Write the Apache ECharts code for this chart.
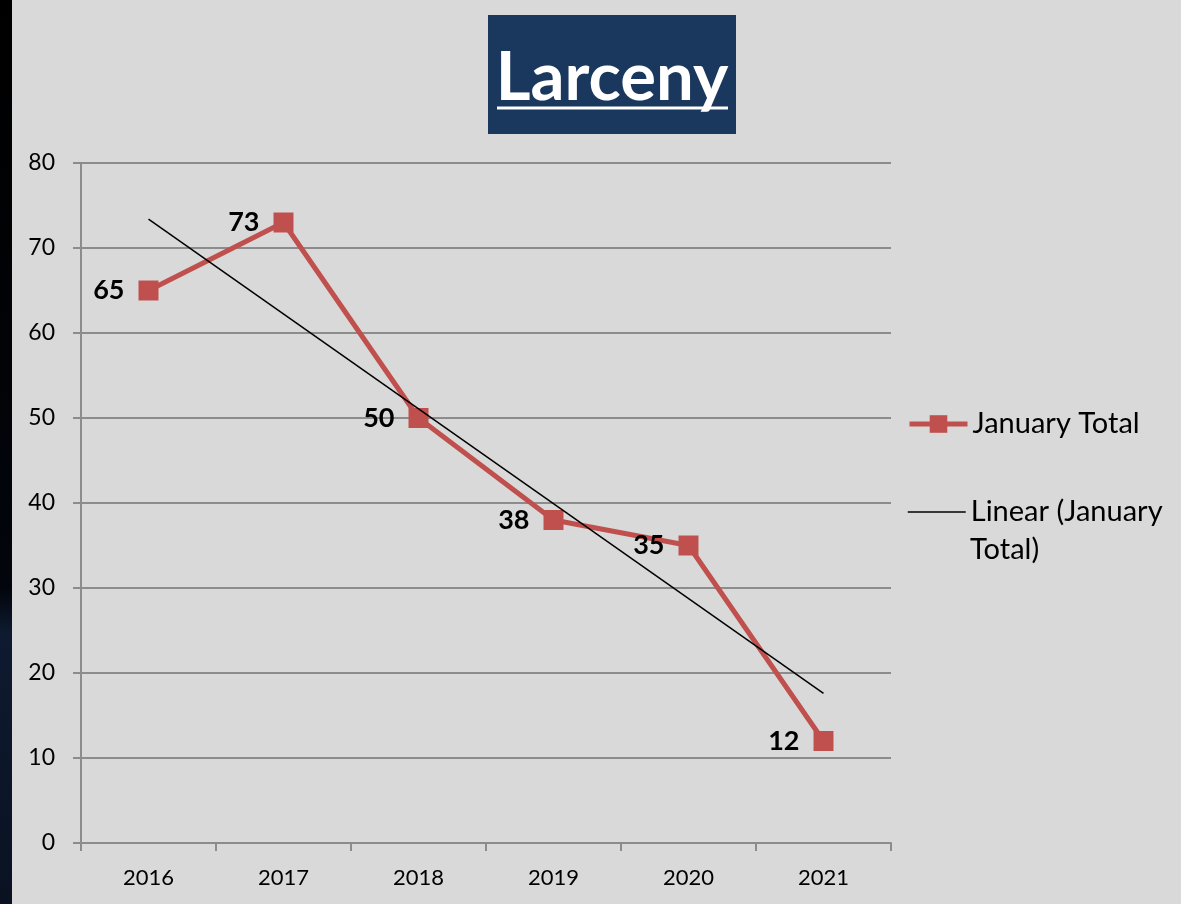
<!DOCTYPE html>
<html>
<head>
<meta charset="utf-8">
<script src="https://cdn.jsdelivr.net/npm/echarts@6/dist/echarts.min.js"></script>
<style>
  html, body { margin: 0; padding: 0; background: #d9d9d9; }
  #chart { width: 1181px; height: 904px; }
</style>
</head>
<body>
<div id="chart"></div>
<script>
// data
var years = ['2016', '2017', '2018', '2019', '2020', '2021'];
var januaryTotal = [65, 73, 50, 38, 35, 12];
// trend line, only the two ends are drawn (Excel linear trendline)
var linearTrend = [73.4, '-', '-', '-', '-', 17.6];
var yTicks = { min: 0, max: 80, interval: 10 };

var red = '#c0504d';
var gridGray = '#8c8c8c';
var font = 'Lato, "Open Sans", sans-serif';

var legendText = {
  fontFamily: font,
  fontSize: 29,
  color: '#000',
  lineHeight: 38
};

var chart = echarts.init(document.getElementById('chart'));
chart.setOption({
  backgroundColor: '#d9d9d9',
  animation: false,
  graphic: [
    {
      // dark slide strip at the left edge
      type: 'rect',
      shape: { x: 0, y: 0, width: 12, height: 904 },
      style: {
        fill: new echarts.graphic.LinearGradient(0, 0, 0, 1, [
          { offset: 0, color: '#000000' },
          { offset: 0.65, color: '#02050b' },
          { offset: 0.7, color: '#0e1a30' },
          { offset: 1, color: '#0a1222' }
        ])
      }
    },
    {
      type: 'rect',
      shape: { x: 488, y: 15, width: 248, height: 119 },
      style: { fill: '#1a375e' }
    },
    {
      type: 'text',
      x: 612,
      y: 78,
      style: {
        text: 'Larceny',
        fill: '#ffffff',
        font: 'bold 67px ' + font,
        textAlign: 'center',
        textVerticalAlign: 'middle'
      }
    },
    {
      type: 'line',
      shape: { x1: 497, y1: 108, x2: 728, y2: 108 },
      style: { stroke: '#ffffff', lineWidth: 3 }
    },
    {
      // second line of the wrapped trendline legend label
      type: 'text',
      x: 970,
      y: 550,
      style: {
        text: 'Total)',
        fill: '#000',
        font: '29px ' + font,
        textAlign: 'left',
        textVerticalAlign: 'middle'
      }
    }
  ],
  grid: {
    left: 81,
    right: 290,
    top: 163,
    bottom: 61
  },
  legend: [
    {
      orient: 'vertical',
      left: 902,
      top: 400,
      itemWidth: 58,
      itemHeight: 22,
      textStyle: legendText,
      data: [{ name: 'January Total', lineStyle: { width: 5 } }]
    },
    {
      orient: 'vertical',
      left: 902,
      top: 488,
      itemWidth: 58,
      itemHeight: 22,
      textStyle: legendText,
      formatter: function () {
        return 'Linear (January';
      },
      data: [{ name: 'Linear (January Total)', itemStyle: { opacity: 0 }, lineStyle: { width: 1.5, color: '#000' } }]
    }
  ],
  xAxis: {
    type: 'category',
    data: years,
    boundaryGap: true,
    axisLine: { lineStyle: { color: gridGray, width: 2 } },
    axisTick: { show: true, length: 8, lineStyle: { color: gridGray, width: 2 } },
    axisLabel: {
      color: '#000',
      fontFamily: font,
      fontSize: 22,
      margin: 24
    }
  },
  yAxis: {
    type: 'value',
    min: yTicks.min,
    max: yTicks.max,
    interval: yTicks.interval,
    axisLine: { show: true, lineStyle: { color: gridGray, width: 2 } },
    axisTick: { show: true, length: 8, lineStyle: { color: gridGray, width: 2 } },
    splitLine: { lineStyle: { color: gridGray, width: 2 } },
    axisLabel: {
      color: '#000',
      fontFamily: font,
      fontSize: 23,
      margin: 26
    }
  },
  series: [
    {
      name: 'January Total',
      type: 'line',
      data: januaryTotal,
      symbol: 'rect',
      symbolSize: 20,
      itemStyle: { color: red },
      lineStyle: { color: red, width: 5 },
      label: {
        show: true,
        position: 'left',
        distance: 14,
        color: '#000',
        fontFamily: font,
        fontWeight: 'bold',
        fontSize: 27
      },
      z: 3
    },
    {
      name: 'Linear (January Total)',
      type: 'line',
      data: linearTrend,
      connectNulls: true,
      showSymbol: false,
      symbol: 'none',
      itemStyle: { color: '#000' },
      lineStyle: { color: '#000', width: 1.5 },
      z: 4
    }
  ]
});
</script>
</body>
</html>
